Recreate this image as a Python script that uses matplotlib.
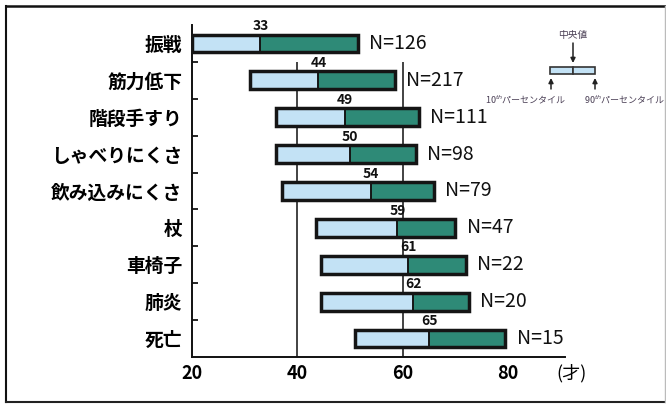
import numpy as np
import matplotlib.pyplot as plt
from matplotlib.patches import Rectangle
from matplotlib.lines import Line2D

plt.rcParams['font.family'] = ['Noto Sans CJK JP', 'DejaVu Sans']

# データ（年齢：10%点・中央値・90%点）
categories = ['振戦', '筋力低下', '階段手すり', 'しゃべりにくさ', '飲み込みにくさ',
              '杖', '車椅子', '肺炎', '死亡']
p10 = [20, 31, 36, 36, 37, 43.5, 44.5, 44.5, 51]
median = [33, 44, 49, 50, 54, 59, 61, 62, 65]
p90 = [51.5, 58.5, 63, 62.5, 66, 70, 72, 72.5, 79.5]
n_counts = [126, 217, 111, 98, 79, 47, 22, 20, 15]
x_ticks = [20, 40, 60, 80]

LIGHT = '#c3e2f5'
TEAL = '#2e8a77'
EDGE = '#151515'

fig = plt.figure(figsize=(6.66, 4.05), dpi=100)
ax = fig.add_axes([192 / 666, 1 - 357 / 405, 373 / 666, 332 / 405])

y = np.arange(len(categories))
lo = np.array(p10)
md = np.array(median)
hi = np.array(p90)

# 縦の補助線（40, 60）
ax.vlines([40, 60], 0.5, len(categories) - 0.5, color='#222222', lw=1.2, zorder=0)

h = 0.48
ax.barh(y, md - lo, left=lo, height=h, color=LIGHT, edgecolor='none', zorder=2)
ax.barh(y, hi - md, left=md, height=h, color=TEAL, edgecolor='none', zorder=2)
ax.vlines(md, y - h / 2, y + h / 2, color=EDGE, lw=1.4, zorder=3)
ax.barh(y, hi - lo, left=lo, height=h, fill=False, edgecolor=EDGE, lw=2.5, zorder=4)

for yi, m, r, n in zip(y, md, hi, n_counts):
    ax.text(m, yi - h / 2 - 0.04, f'{m}', ha='center', va='bottom',
            fontsize=10, fontweight='semibold', color='#111111', zorder=5)
    ax.annotate(f'N={n}', (r, yi), xytext=(8, 0), textcoords='offset points',
                ha='left', va='center', fontsize=14, color='#111111')

ax.set_xlim(20, 90.8)
ax.set_ylim(len(categories) - 0.5, -0.5)

ax.set_yticks(y)
ax.set_yticklabels(categories, fontsize=13.5, fontweight='bold')
ax.set_yticks(np.arange(0.5, len(categories) - 0.5), minor=True)
ax.tick_params(axis='y', which='major', length=0, pad=7)
ax.tick_params(axis='y', which='minor', direction='in', length=4, width=1.2)

ax.set_xticks(x_ticks)
ax.set_xticklabels([str(t) for t in x_ticks], fontsize=13, fontweight='bold')
ax.tick_params(axis='x', length=0, pad=5)
ax.annotate('(才)', (1.0, 0), xycoords='axes fraction', xytext=(-6, -12),
            textcoords='offset points', ha='left', va='center', fontsize=13)

for s in ['top', 'right']:
    ax.spines[s].set_visible(False)
for s in ['left', 'bottom']:
    ax.spines[s].set_linewidth(1.4)
    ax.spines[s].set_color('#111111')

# 凡例（右上の説明図）
lg = fig.add_axes([480 / 666, 1 - 120 / 405, 186 / 666, 100 / 405])
lg.set_xlim(480, 666)
lg.set_ylim(120, 20)
lg.axis('off')
lg.text(573, 35, '中央値', ha='center', va='center', fontsize=7, color='#4a3f55')
arrow_kw = dict(arrowstyle='-|>', color='#222222', lw=1.1, mutation_scale=7,
                shrinkA=0, shrinkB=0)
lg.annotate('', xy=(573, 63), xytext=(573, 43), arrowprops=arrow_kw)
lg.add_patch(Rectangle((550, 67), 23, 7, facecolor=LIGHT, edgecolor='#333333', lw=1.2))
lg.add_patch(Rectangle((573, 67), 22, 7, facecolor=LIGHT, edgecolor='#333333', lw=1.2))
for xa in [551, 595]:
    lg.annotate('', xy=(xa, 78), xytext=(xa, 89), arrowprops=arrow_kw)
lg.text(526, 100, '10$^{th}$パーセンタイル', ha='center', va='center', fontsize=6.5,
        color='#4a3f55')
lg.text(625, 100, '90$^{th}$パーセンタイル', ha='center', va='center', fontsize=6.5,
        color='#4a3f55', clip_on=False)

# 外枠
L, R, T, B = 6 / 666, 665 / 666, 1 - 6 / 405, 1 - 402 / 405
fig.add_artist(Line2D([L, R], [T, T], transform=fig.transFigure, color='#111111', lw=1.8))
fig.add_artist(Line2D([L, L], [B, T], transform=fig.transFigure, color='#111111', lw=1.5))
fig.add_artist(Line2D([L, R], [B, B], transform=fig.transFigure, color='#222222', lw=1.5))
fig.add_artist(Line2D([R, R], [B, T], transform=fig.transFigure, color='#bbbbbb', lw=1.0))

fig.savefig('out.png', dpi=100)
